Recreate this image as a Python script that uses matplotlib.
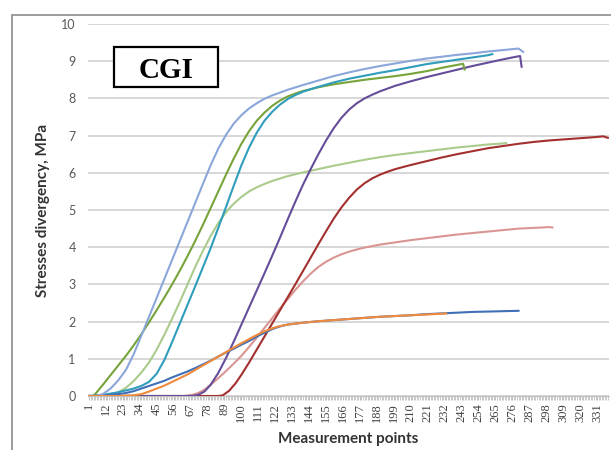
import matplotlib.pyplot as plt
from matplotlib.patches import Rectangle

plt.rcParams["font.family"] = ["Lato", "DejaVu Sans"]

x_lblue = [1, 6, 10, 15, 20, 25, 30, 35, 40, 45, 50, 55, 60, 65, 70, 75, 80, 85, 90, 95,
           100, 105, 110, 115, 120, 130, 140, 150, 160, 170, 180, 190, 200, 210, 220,
           230, 240, 250, 260, 270, 280, 283]
y_lblue = [0, 0, 0.05, 0.2, 0.42, 0.7, 1.12, 1.62, 2.13, 2.64, 3.15, 3.66, 4.17, 4.68,
           5.19, 5.7, 6.2, 6.65, 7.02, 7.32, 7.55, 7.73, 7.87, 7.99, 8.08, 8.23, 8.36,
           8.48, 8.6, 8.7, 8.79, 8.87, 8.94, 9.01, 9.07, 9.12, 9.17, 9.21, 9.26, 9.3,
           9.34, 9.25]

x_teal = [1, 10, 20, 30, 35, 40, 45, 50, 55, 60, 65, 70, 75, 80, 85, 90, 95, 100, 105,
          110, 115, 120, 125, 130, 135, 140, 150, 160, 170, 180, 190, 200, 210, 220, 230,
          240, 250, 260, 263]
y_teal = [0, 0.03, 0.1, 0.2, 0.27, 0.38, 0.6, 0.97, 1.45, 1.95, 2.45, 2.95, 3.46, 3.97,
          4.52, 5.08, 5.65, 6.2, 6.68, 7.08, 7.4, 7.64, 7.83, 7.98, 8.09, 8.18, 8.31, 8.43,
          8.53, 8.61, 8.69, 8.76, 8.84, 8.92, 8.98, 9.04, 9.1, 9.16, 9.19]

x_dgreen = [1, 4, 10, 15, 20, 25, 30, 35, 40, 45, 50, 55, 60, 65, 70, 75, 80, 85, 90, 95,
            100, 105, 110, 115, 120, 125, 130, 135, 140, 150, 160, 170, 180, 190, 200,
            210, 220, 230, 240, 244, 245]
y_dgreen = [0, 0, 0.3, 0.56, 0.82, 1.08, 1.36, 1.66, 1.98, 2.31, 2.65, 3.0, 3.37, 3.76,
            4.17, 4.6, 5.05, 5.5, 5.95, 6.38, 6.78, 7.12, 7.4, 7.62, 7.8, 7.94, 8.05, 8.13,
            8.2, 8.3, 8.38, 8.44, 8.5, 8.55, 8.6, 8.66, 8.73, 8.82, 8.9, 8.93, 8.78]

x_lgreen = [1, 10, 15, 20, 25, 30, 35, 40, 45, 50, 55, 60, 65, 70, 75, 80, 85, 90, 95, 100,
            105, 110, 115, 120, 130, 140, 150, 160, 170, 180, 190, 200, 210, 220, 230,
            240, 250, 260, 270, 272]
y_lgreen = [0, 0, 0.03, 0.1, 0.22, 0.4, 0.63, 0.9, 1.25, 1.65, 2.08, 2.53, 3.0, 3.47, 3.9,
            4.3, 4.65, 4.94, 5.17, 5.35, 5.5, 5.61, 5.7, 5.78, 5.91, 6.01, 6.1, 6.19, 6.27,
            6.35, 6.42, 6.48, 6.53, 6.58, 6.63, 6.68, 6.72, 6.76, 6.79, 6.8]

x_purple = [1, 68, 72, 76, 80, 85, 90, 95, 100, 105, 110, 115, 120, 125, 130, 135, 140,
            145, 150, 155, 160, 165, 170, 175, 180, 185, 190, 200, 210, 220, 230, 240,
            250, 260, 270, 276, 281, 282]
y_purple = [0, 0, 0.03, 0.12, 0.3, 0.62, 1.02, 1.46, 1.92, 2.38, 2.84, 3.3, 3.77, 4.25,
            4.74, 5.22, 5.68, 6.1, 6.5, 6.87, 7.2, 7.48, 7.7, 7.87, 8.0, 8.1, 8.19, 8.34,
            8.46, 8.57, 8.67, 8.77, 8.87, 8.96, 9.05, 9.1, 9.14, 8.85]

x_red = [1, 85, 88, 92, 96, 100, 105, 110, 115, 120, 125, 130, 135, 140, 145, 150, 155,
         160, 165, 170, 175, 180, 185, 190, 195, 200, 210, 220, 230, 240, 250, 260, 270,
         280, 290, 300, 310, 320, 330, 335, 338]
y_red = [0, 0, 0.02, 0.14, 0.33, 0.57, 0.9, 1.25, 1.6, 1.95, 2.3, 2.65, 3.0, 3.36, 3.72,
         4.08, 4.43, 4.77, 5.07, 5.33, 5.55, 5.72, 5.85, 5.95, 6.03, 6.1, 6.21, 6.31, 6.41,
         6.5, 6.58, 6.66, 6.72, 6.78, 6.83, 6.87, 6.9, 6.93, 6.96, 6.98, 6.94]

x_pink = [1, 63, 68, 72, 76, 80, 85, 90, 95, 100, 105, 110, 115, 120, 125, 130, 135, 140,
          145, 150, 155, 160, 165, 170, 175, 180, 190, 200, 210, 220, 230, 240, 250, 260,
          270, 280, 290, 300, 302]
y_pink = [0, 0, 0.03, 0.08, 0.17, 0.3, 0.48, 0.67, 0.87, 1.08, 1.32, 1.57, 1.83, 2.09,
          2.35, 2.6, 2.85, 3.08, 3.29, 3.47, 3.61, 3.72, 3.81, 3.88, 3.94, 3.99, 4.07,
          4.13, 4.19, 4.24, 4.29, 4.34, 4.38, 4.42, 4.46, 4.5, 4.52, 4.54, 4.53]

x_dblue = [1, 10, 15, 20, 25, 30, 35, 40, 45, 50, 55, 60, 65, 70, 75, 80, 85, 90, 95, 100,
           105, 110, 115, 120, 125, 130, 140, 150, 160, 170, 180, 190, 200, 210, 220, 230,
           240, 250, 260, 270, 280]
y_dblue = [0, 0, 0.03, 0.05, 0.08, 0.13, 0.2, 0.27, 0.34, 0.41, 0.5, 0.58, 0.66, 0.75,
           0.85, 0.95, 1.06, 1.17, 1.27, 1.38, 1.48, 1.6, 1.7, 1.8, 1.87, 1.92, 1.97, 2.01,
           2.04, 2.07, 2.1, 2.13, 2.15, 2.17, 2.2, 2.22, 2.24, 2.26, 2.27, 2.28, 2.29]

x_orange = [1, 20, 25, 30, 35, 40, 45, 50, 55, 60, 65, 70, 75, 80, 85, 90, 95, 100, 105,
            110, 115, 120, 125, 130, 140, 150, 160, 170, 180, 190, 200, 210, 220, 230, 233]
y_orange = [0, 0, 0.01, 0.02, 0.05, 0.12, 0.2, 0.28, 0.38, 0.48, 0.58, 0.7, 0.82, 0.94,
            1.06, 1.18, 1.3, 1.42, 1.53, 1.64, 1.74, 1.82, 1.88, 1.92, 1.97, 2.01, 2.04,
            2.07, 2.1, 2.13, 2.15, 2.17, 2.19, 2.21, 2.22]

tick_points = list(range(1, 332, 11))
n_points = 338

series = [
    (x_pink, y_pink, "#d99592"),
    (x_lgreen, y_lgreen, "#a9cb8c"),
    (x_red, y_red, "#a3302e"),
    (x_purple, y_purple, "#654d99"),
    (x_dgreen, y_dgreen, "#76a33a"),
    (x_teal, y_teal, "#2f9dbb"),
    (x_lblue, y_lblue, "#8ba6da"),
    (x_dblue, y_dblue, "#3f6fb6"),
    (x_orange, y_orange, "#f08a3c"),
]

fig = plt.figure(figsize=(6.11, 4.5), dpi=100)
ax = fig.add_axes([88.2/611, 54/450, 520.4/611, 372/450])

for xs, ys, c in series:
    ax.plot(xs, ys, color=c, lw=1.5, solid_joinstyle="round", zorder=3)

ax.set_xlim(0.5, n_points + 0.5)
ax.set_ylim(0, 10)
ax.set_yticks(range(0, 11))
ax.grid(axis="y", color="#d4d4d4", lw=1.3, zorder=0)
ax.set_axisbelow(True)

ax.set_xticks(tick_points)
ax.set_xticklabels([str(t) for t in tick_points], rotation=90,
                   family="Liberation Serif", fontsize=9, color="#404040")
ax.set_xticks(range(1, n_points + 1), minor=True)
ax.tick_params(axis="x", which="both", length=3, color="#c0c0c0", pad=2)
ax.tick_params(axis="y", length=0, labelsize=9, labelcolor="#595959", pad=9)

for s in ["left", "right", "top"]:
    ax.spines[s].set_visible(False)
ax.spines["bottom"].set_color("#bfbfbf")

ax.set_ylabel("Stresses divergency, MPa", fontsize=11, fontweight="bold", color="#333333")
ax.yaxis.set_label_coords(-0.073, 0.5)
ax.set_xlabel("Measurement points", fontsize=11, fontweight="bold", color="#333333")
ax.xaxis.set_label_coords(0.5, -0.097)

# outer chart frame
fig.add_artist(Rectangle((12/611, -0.1), 1.2, 0.1 + 435/450, transform=fig.transFigure,
                         fill=False, edgecolor="#8c8c8c", lw=1.2))

# CGI label box
fig.add_artist(Rectangle((114/611, 363/450), 104/611, 40/450, transform=fig.transFigure,
                         facecolor="white", edgecolor="black", lw=1.6, zorder=5))
fig.text(166/611, 371.5/450, "CGI", family="Liberation Serif", fontweight="bold",
         fontsize=21, ha="center", va="baseline", zorder=6)

fig.savefig("out.png", dpi=100)
